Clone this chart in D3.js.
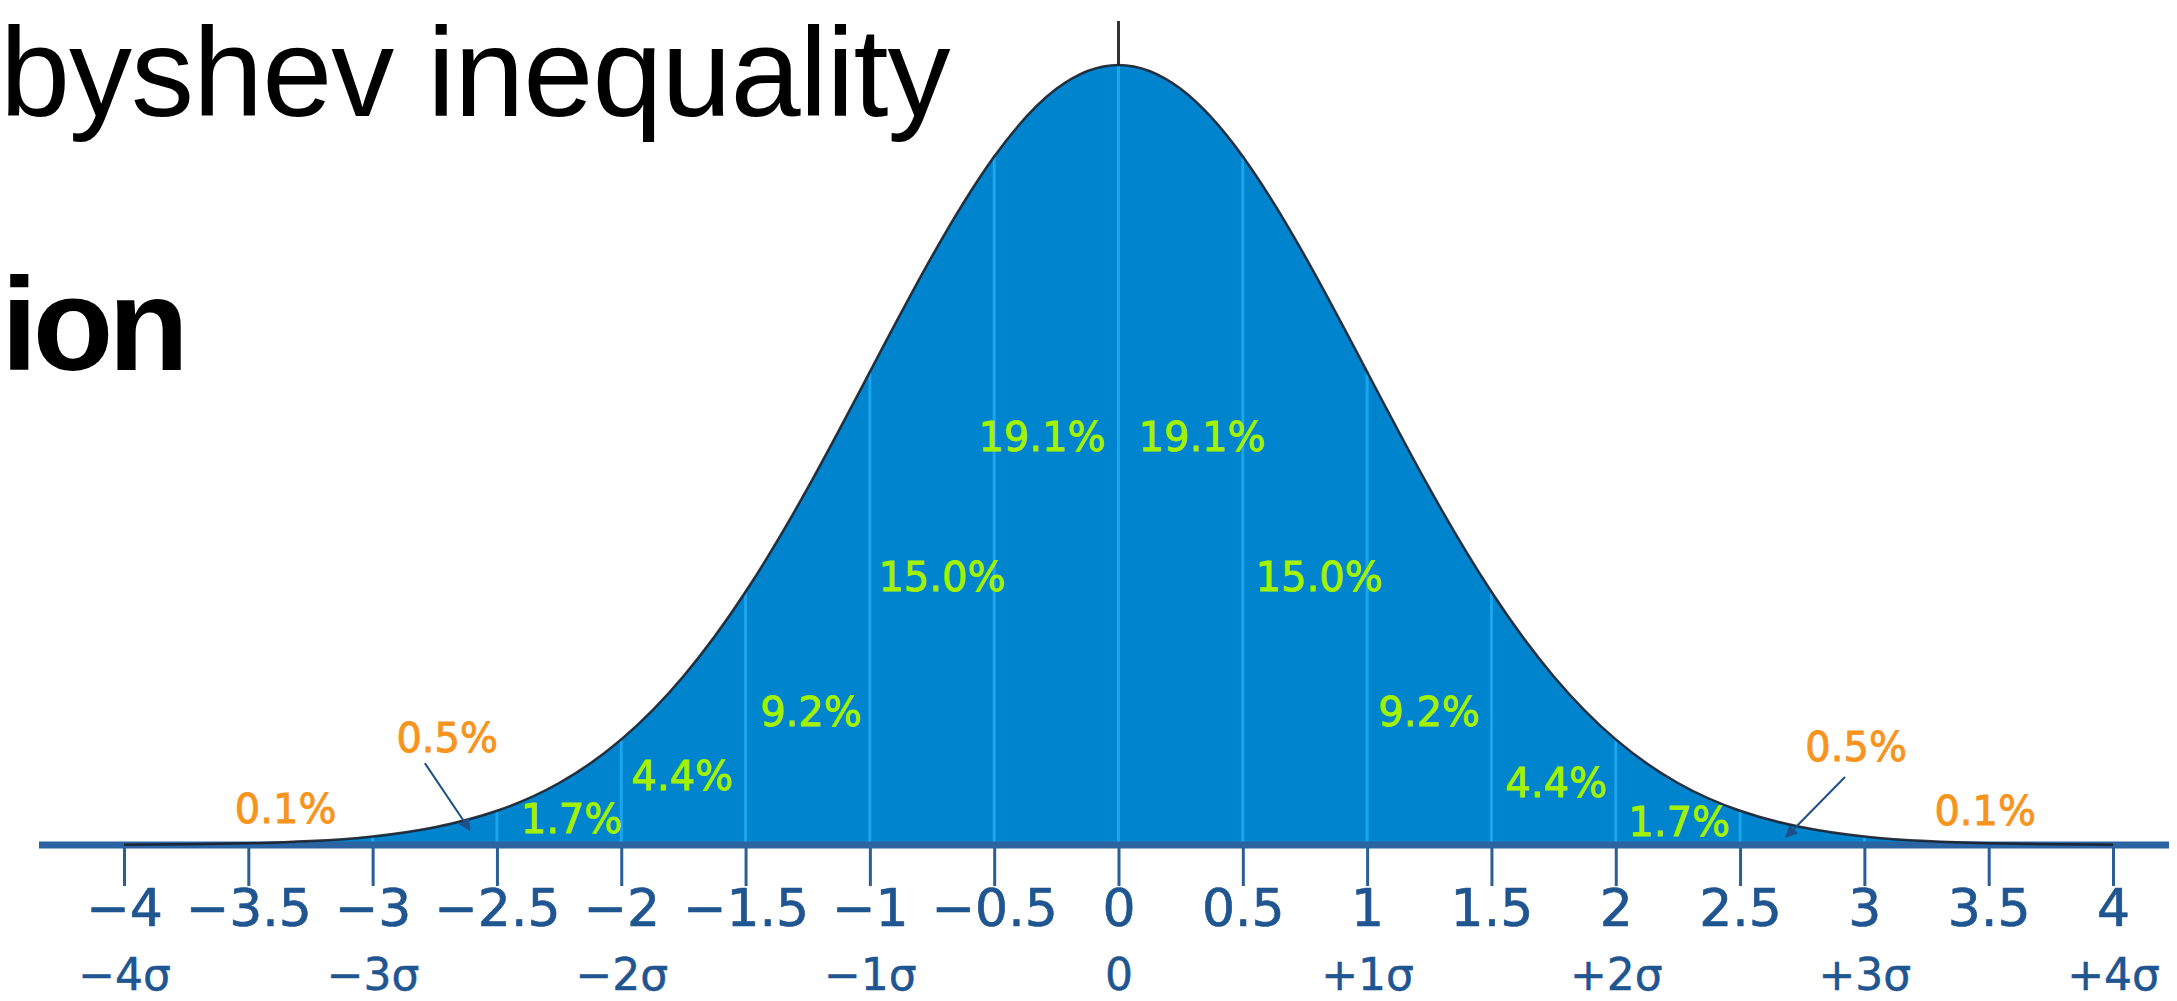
<!DOCTYPE html>
<html><head><meta charset="utf-8">
<script src="https://cdn.jsdelivr.net/npm/d3@7"></script>
<style>html,body{margin:0;padding:0;background:#fff;overflow:hidden}</style>
</head><body>
<svg id="chart" width="2177" height="1001"></svg>
<script>
// ---------- data ----------
const curveX = [-4,-3.75,-3.5,-3.25,-3,-2.75,-2.5,-2.25,-2,-1.75,-1.5,-1.25,-1,-0.75,-0.5,-0.25,0,
                0.25,0.5,0.75,1,1.25,1.5,1.75,2,2.25,2.5,2.75,3,3.25,3.5,3.75,4];
const curveDensity = [0.00013,0.00035,0.00087,0.0020,0.0044,0.0091,0.0175,0.0317,0.0540,0.0863,0.1295,0.1826,0.2420,0.3011,0.3521,0.3867,0.3989,
                      0.3867,0.3521,0.3011,0.2420,0.1826,0.1295,0.0863,0.0540,0.0317,0.0175,0.0091,0.0044,0.0020,0.00087,0.00035,0.00013];
const tickValues = [-4,-3.5,-3,-2.5,-2,-1.5,-1,-0.5,0,0.5,1,1.5,2,2.5,3,3.5,4];
const tickLabels = ["−4","−3.5","−3","−2.5","−2","−1.5","−1","−0.5","0","0.5","1","1.5","2","2.5","3","3.5","4"];
const sigmaValues = [-4,-3,-2,-1,0,1,2,3,4];
const sigmaLabels = ["−4σ","−3σ","−2σ","−1σ","0","+1σ","+2σ","+3σ","+4σ"];
const bandLabels = ["0.1%","0.5%","1.7%","4.4%","9.2%","15.0%","19.1%","19.1%","15.0%","9.2%","4.4%","1.7%","0.5%","0.1%"];
const bandIsTail = [true,true,false,false,false,false,false,false,false,false,false,false,true,true];
const titleLines = ["byshev inequality","ion"];

// ---------- layout ----------
const W = 2177, H = 1001;
const svg = d3.select("#chart");
svg.append("rect").attr("width",W).attr("height",H).attr("fill","#fff");

const x = d3.scaleLinear().domain([-4,4]).range([124,2113]);
const y = d3.scaleLinear().domain([0,0.3989]).range([845,65]);

// label anchors in data units (sigma, density)
const labelAnchors = [
  [-3.35,0.0189],[-2.70,0.0552],[-2.20,0.0133],[-1.755,0.0353],[-1.237,0.0685],[-0.71,0.1371],[-0.308,0.2087],
  [0.336,0.2087],[0.807,0.1371],[1.249,0.0685],[1.76,0.0322],[2.255,0.0118],[2.967,0.0506],[3.486,0.0174]
];
const arrows = [
  {from:[-2.790,0.0419], to:[-2.609,0.0077]},
  {from:[2.922,0.0348], to:[2.685,0.0041]}
];

const pts = curveX.map((v,i)=>({x:v, d:curveDensity[i]}));

// titles
svg.append("text").attr("x",0).attr("y",116)
  .attr("font-family","'Liberation Sans', Arial, Helvetica, sans-serif").attr("font-size",126)
  .attr("letter-spacing",-1)
  .attr("fill","#000").text(titleLines[0]);
svg.append("text").attr("x",1).attr("y",370)
  .attr("font-family","'Liberation Sans', Arial, Helvetica, sans-serif").attr("font-size",132)
  .attr("font-weight","bold").attr("letter-spacing",-5)
  .attr("fill","#000").text(titleLines[1]);

// center vertical line above the peak
svg.append("line").attr("x1",x(0)).attr("x2",x(0)).attr("y1",21).attr("y2",y(0.3989))
  .attr("stroke","#333").attr("stroke-width",3);

// area
const area = d3.area().x(p=>x(p.x)).y0(y(0)).y1(p=>y(p.d)).curve(d3.curveNatural);
svg.append("path").datum(pts).attr("d",area).attr("fill","#0084cd");

// inner light lines
const densAt = v => curveDensity[curveX.indexOf(v)];
svg.append("g").selectAll("line").data(tickValues).join("line")
  .attr("x1",d=>x(d)).attr("x2",d=>x(d)).attr("y1",y(0)).attr("y2",d=>y(densAt(d)))
  .attr("stroke","#1aa6ee").attr("stroke-width",3);

// baseline band
svg.append("line").attr("x1",39).attr("x2",2169).attr("y1",y(0)).attr("y2",y(0))
  .attr("stroke","#2a64a2").attr("stroke-width",7);

// curve stroke
const line = d3.line().x(p=>x(p.x)).y(p=>y(p.d)).curve(d3.curveNatural);
svg.append("path").datum(pts).attr("d",line).attr("fill","none")
  .attr("stroke","#1a1f2a").attr("stroke-width",2.5).attr("stroke-opacity",0.9);

// axis with tick marks and numbers
const axis = d3.axisBottom(x).tickValues(tickValues)
  .tickFormat((d,i)=>tickLabels[i]).tickSize(38).tickPadding(3);
const gAxis = svg.append("g").attr("transform",`translate(0,${y(0)+3})`).call(axis);
gAxis.select(".domain").remove();
gAxis.selectAll(".tick line").attr("stroke","#2b5e95").attr("stroke-width",3);
gAxis.selectAll(".tick text").attr("fill","#1f5590")
  .attr("stroke","#1f5590").attr("stroke-width",0.7)
  .attr("font-family","'DejaVu Sans', Verdana, sans-serif").attr("font-size",52);

// sigma axis
const axis2 = d3.axisBottom(x).tickValues(sigmaValues)
  .tickFormat((d,i)=>sigmaLabels[i]).tickSize(0).tickPadding(0);
const gAxis2 = svg.append("g").attr("transform","translate(0,959)").call(axis2);
gAxis2.select(".domain").remove();
gAxis2.selectAll(".tick text").attr("fill","#1f5590")
  .attr("stroke","#1f5590").attr("stroke-width",0.5)
  .attr("font-family","'DejaVu Sans', Verdana, sans-serif").attr("font-size",44);

// percentage labels
svg.append("g").selectAll("text").data(bandLabels).join("text")
  .attr("x",(d,i)=>x(labelAnchors[i][0]))
  .attr("y",(d,i)=>y(labelAnchors[i][1]) + 14.5)
  .attr("text-anchor","middle")
  .attr("font-family","'DejaVu Sans', Verdana, sans-serif").attr("font-size",40)
  .attr("fill",(d,i)=>bandIsTail[i] ? "#f7941d" : "#a4f200")
  .attr("stroke",(d,i)=>bandIsTail[i] ? "#f7941d" : "#a4f200").attr("stroke-width",0.9)
  .text(d=>d);

// arrows
const defs = svg.append("defs");
defs.append("marker").attr("id","ah").attr("viewBox","0 0 10 10").attr("refX",9).attr("refY",5)
  .attr("markerWidth",16).attr("markerHeight",12).attr("markerUnits","userSpaceOnUse")
  .attr("orient","auto").append("path").attr("d","M0,0L10,5L0,10Z").attr("fill","#1d4f88");
svg.append("g").selectAll("line").data(arrows).join("line")
  .attr("x1",a=>x(a.from[0])).attr("y1",a=>y(a.from[1]))
  .attr("x2",a=>x(a.to[0])).attr("y2",a=>y(a.to[1]))
  .attr("stroke","#1d4f88").attr("stroke-width",2).attr("marker-end","url(#ah)");
</script>
</body></html>
